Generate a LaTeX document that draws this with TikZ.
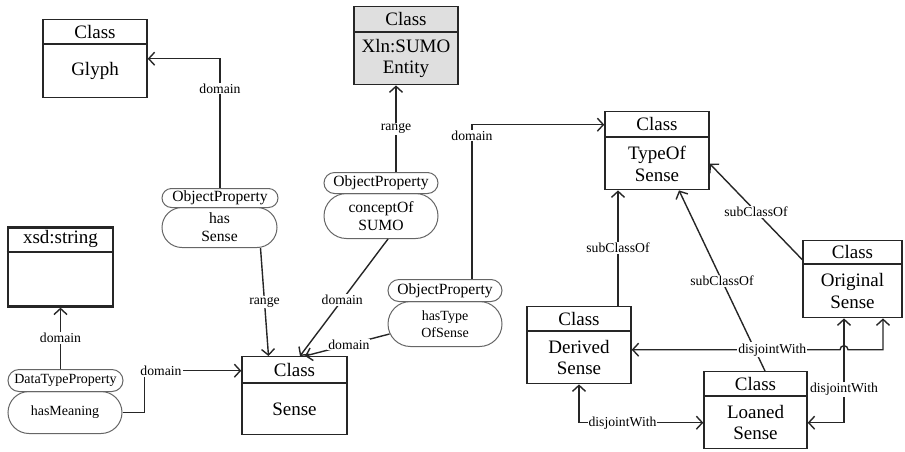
\documentclass[tikz,border=0pt]{standalone}
\usepackage{fontspec}
\setmainfont{Liberation Serif}
\usetikzlibrary{shapes.misc,arrows.meta,calc}
\newcommand\umlclass[9]{%
  \node[cls, #9, minimum width=#4pt, minimum height=#5pt, anchor=north] (#1) at (#2,#3) {};
  \draw[clsline, #9] ([yshift=-#6pt]#1.north west) -- ([yshift=-#6pt]#1.north east);
  \node[clstxt] (#1-h) at ([yshift=-#6pt/2]#1.north) {#7};
  \node[clstxt] (#1-b) at ($(#1.south)!0.5!([yshift=-#6pt]#1.north)$) {#8};
}
\begin{document}
\begin{tikzpicture}[x=1pt,y=-1pt,
  cls/.style={draw=black!85, line width=1.4pt, rectangle, inner sep=0pt, fill=white},
  clsline/.style={draw=black!85, line width=1.4pt},
  clstxt/.style={font=\fontsize{19}{21.5}\selectfont, align=center, inner sep=0pt},
  pill/.style={rounded rectangle, draw=black!60, line width=1pt, inner sep=0pt, fill=white, align=center, anchor=north},
  pfont/.style={font=\fontsize{15.6}{18}\selectfont},
  sfont/.style={font=\fontsize{14}{17}\selectfont},
  lbl/.style={fill=white, inner sep=1pt, font=\fontsize{13.7}{14}\selectfont},
  conn/.style={line width=1.4pt, draw=black!85, -{Straight Barb[length=6pt,width=13pt]}},
  conn2/.style={line width=1.4pt, draw=black!85, {Straight Barb[length=6pt,width=13pt]}-{Straight Barb[length=6pt,width=13pt]}}]
\useasboundingbox (0,0) rectangle (905,451);

% classes
\umlclass{glyph}{95}{19}{104}{78}{25}{Class}{Glyph}{fill=white}
\umlclass{xln}{406}{6}{104}{78}{26}{Class}{Xln:SUMO\\Entity}{fill=gray!25}
\umlclass{xsd}{60.5}{226}{105}{79}{26}{xsd:string}{}{line width=2.6pt}
\umlclass{sense}{294.5}{356}{105}{78}{27}{Class}{Sense}{fill=white}
\umlclass{typeof}{657}{111}{104}{78}{26}{Class}{TypeOf\\Sense}{fill=white}
\umlclass{derived}{579}{306}{104}{77}{25}{Class}{Derived\\Sense}{fill=white}
\umlclass{loaned}{755.5}{371}{103}{77}{25}{Class}{Loaned\\Sense}{fill=white}
\umlclass{original}{852.5}{240}{99}{77}{24}{Class}{Original\\Sense}{fill=white}

% property pills
\node[pill, pfont, minimum width=115pt, minimum height=40pt] (hs-b) at (219.5,207) {has\\Sense};
\node[pill, pfont, minimum width=116pt, minimum height=19pt] (hs-h) at (220,188) {ObjectProperty};
\node[pill, pfont, minimum width=114pt, minimum height=45pt] (cof-b) at (381,193) {conceptOf\\SUMO};
\node[pill, pfont, minimum width=114pt, minimum height=21pt] (cof-h) at (381,172) {ObjectProperty};
\node[pill, sfont, minimum width=114pt, minimum height=45pt] (ht-b) at (445,301) {hasType\\OfSense};
\node[pill, pfont, minimum width=114pt, minimum height=22pt] (ht-h) at (445,279) {ObjectProperty};
\node[pill, sfont, minimum width=114pt, minimum height=42pt] (dt-b) at (65,391) {hasMeaning};
\node[pill, sfont, minimum width=115pt, minimum height=22pt] (dt-h) at (65.5,369) {DataTypeProperty};

% helper coordinates
\path ([xshift=15pt]cof-h.north) coordinate (c2)
      ([xshift=27pt]ht-h.north) coordinate (c6)
      ([xshift=39pt]derived.north) coordinate (c9)
      ([xshift=-8.5pt]original.south) coordinate (ov1)
      ([xshift=30.5pt]original.south) coordinate (ov2)
      ([yshift=-4.5pt]derived.east) coordinate (dj1)
      ([yshift=-12.5pt]loaned.east) coordinate (dj2)
      ([yshift=-12.5pt]loaned.west) coordinate (dj3);

% connectors
\draw[conn] (hs-h.north) |- node[lbl,pos=0.385]{domain} (glyph.east);
\draw[conn] (c2) -- node[lbl]{range} (c2 |- xln.south);
\draw[conn] ([xshift=41pt]hs-b.south) -- node[lbl]{range} ([xshift=-26pt]sense.north);
\draw[conn] ([xshift=7pt]cof-b.south) -- node[lbl,pos=0.52]{domain} ([xshift=5.5pt]sense.north);
\draw[conn] ([shift={(2pt,-10pt)}]ht-b.west) -- node[lbl,pos=0.48]{domain} ([xshift=10.5pt]sense.north);
\draw[conn] (c6) |- node[lbl,pos=0.465]{domain} ([yshift=26pt]typeof.west);
\draw[conn] (dt-h.north -| xsd.south) -- node[lbl]{domain} (xsd.south);
\draw[conn] (dt-b.east) -- ++(22pt,0) |- node[lbl,pos=0.585]{domain} ([yshift=25pt]sense.west);

\draw[conn] (c9) -- node[lbl]{subClassOf} (c9 |- typeof.south);
\draw[conn] ([xshift=9.5pt]loaned.north) -- node[lbl]{subClassOf} ([xshift=22pt]typeof.south);
\draw[conn] ([yshift=19.5pt]original.west) -- node[lbl]{subClassOf} ([yshift=-13pt]typeof.east);

\draw[conn2] (dj1) -- node[lbl,pos=0.675]{disjointWith} ([xshift=-4pt]dj1 -| ov1)
   arc[start angle=180,end angle=0,radius=4pt] -- (dj1 -| ov2) -- (ov2);
\draw[conn2] (dj2) -| node[lbl,pos=0.66]{disjointWith} (ov1);
\draw[conn2] (derived.south) |- node[lbl,pos=0.675]{disjointWith} (dj3);
\end{tikzpicture}
\end{document}
